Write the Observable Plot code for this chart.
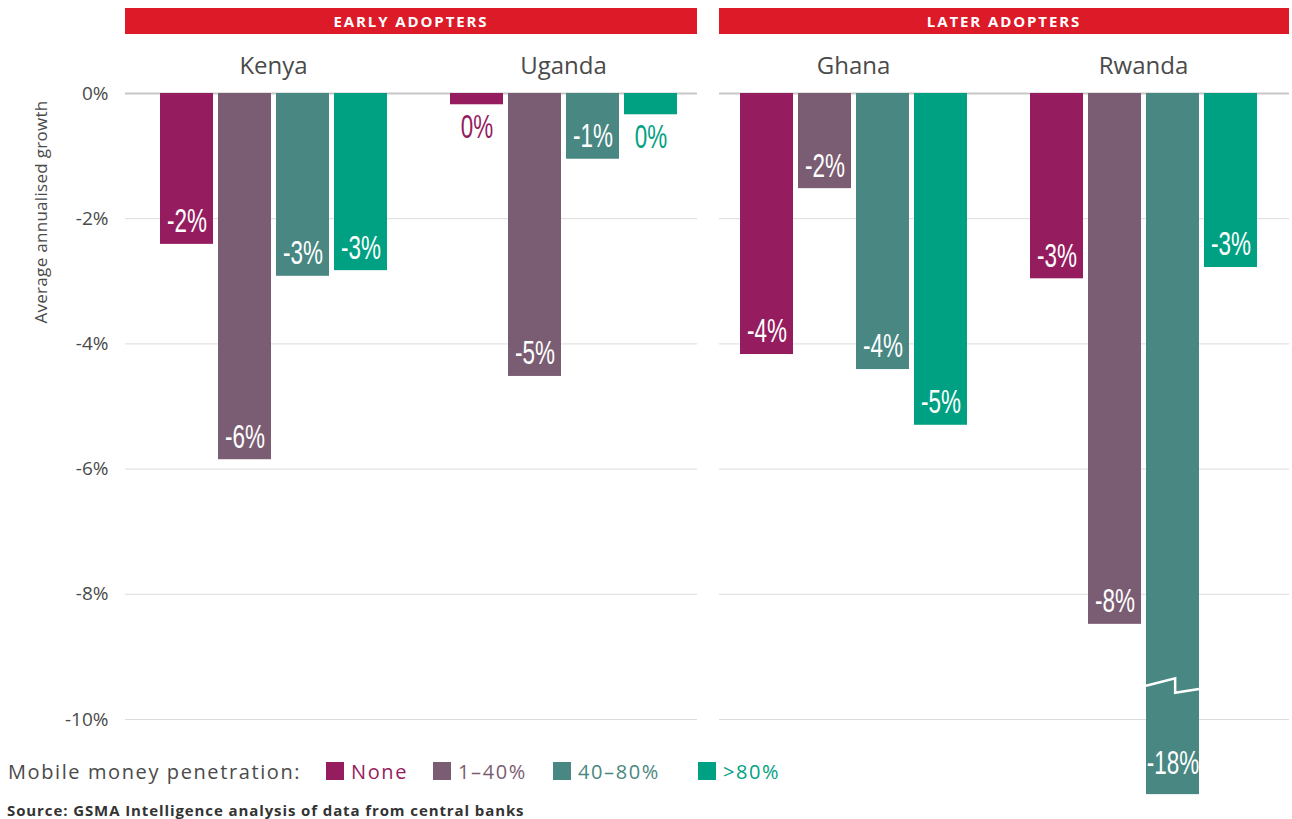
<!DOCTYPE html>
<html><head><meta charset="utf-8">
<script src="https://cdn.jsdelivr.net/npm/d3@7"></script>
<script src="https://cdn.jsdelivr.net/npm/@observablehq/plot@0.6"></script>
<style>
body{margin:0;background:#fff;font-family:"Open Sans",sans-serif;}
#wrap{position:relative;width:1292px;height:819px;overflow:hidden;}
#wrap svg{position:absolute;left:0;top:0;}
.hdr{position:absolute;top:8px;height:26px;background:#DC1A28;color:#fff;font-weight:700;font-size:15px;letter-spacing:1.9px;display:flex;align-items:center;justify-content:center;}
.ylab{position:absolute;left:40px;top:212px;transform:translate(-50%,-50%) rotate(-90deg);white-space:nowrap;font-size:17px;letter-spacing:0.3px;color:#4a4a4a;}
.leg{position:absolute;top:760px;height:22px;display:flex;align-items:center;font-size:20px;letter-spacing:1.6px;white-space:nowrap;}
.sw{width:18px;height:18px;margin-right:7px;}
.src{position:absolute;left:7px;top:800px;font-size:15px;letter-spacing:0.9px;font-weight:700;color:#333;white-space:nowrap;}
</style></head><body><div id="wrap"></div><script>
// ---- data ----
const groups = ["EARLY ADOPTERS", "LATER ADOPTERS"];
const countries = ["Kenya", "Uganda", "Ghana", "Rwanda"];
const penetration = ["None", "1–40%", "40–80%", ">80%"];
const colors = ["#951C5F", "#7B5D73", "#488782", "#00A183"];
const kenya = [-2.41, -5.85, -2.92, -2.83];
const uganda = [-0.18, -4.52, -1.05, -0.34];
const ghana = [-4.17, -1.52, -4.41, -5.30];
const rwanda = [-2.96, -8.48, -18, -2.78];
const yTicks = [0, -2, -4, -6, -8, -10];
const axisBreakAt = -10;       // values beyond this are drawn as a broken bar
const brokenBarLength = -11.2; // drawn length of a broken bar
const breakLine = [-9.47, -9.35, -9.58, -9.52]; // zigzag y values (data units)

const series = [kenya, uganda, ghana, rwanda];
const fmt = v => String(Math.round(v)) + "%";
const rows = countries.flatMap((c, i) => series[i].map((v, j) => ({
  country: c, cat: penetration[j], value: v,
  display: v < axisBreakAt ? brokenBarLength : v,
  label: fmt(v)
})));
const normal = rows.filter(d => d.value >= axisBreakAt);
const broken = rows.filter(d => d.value < axisBreakAt);
const inside = normal.filter(d => d.display <= -0.8);
const outside = normal.filter(d => d.display > -0.8);

// gridline extents per facet (panel gaps)
const gridInset = {Kenya: [-3, 0], Uganda: [0, 11], Ghana: [11, 0], Rwanda: [0, -1]};
const gridMarks = countries.flatMap(c => {
  const data = yTicks.map(t => ({country: c, t}));
  return [
    Plot.ruleY(data.filter(d => d.t !== 0), {fx: "country", y: "t", stroke: "#dcdcdc", strokeWidth: 1, insetLeft: gridInset[c][0], insetRight: gridInset[c][1]}),
    Plot.ruleY(data.filter(d => d.t === 0), {fx: "country", y: "t", stroke: "#c8c8c8", strokeWidth: 2, insetLeft: gridInset[c][0], insetRight: gridInset[c][1]})
  ];
});

const labelFont = "'Liberation Sans Narrow', 'Liberation Sans', sans-serif";
const labelOpts = {fx: "country", x: "cat", y: "display", text: "label", fontSize: 34, fontFamily: labelFont, ariaDescription: "vlabel"};
const plot = Plot.plot({
  width: 1292, height: 800,
  marginTop: 93, marginBottom: 81, marginLeft: 127, marginRight: 3,
  style: {fontFamily: "'Open Sans', sans-serif", color: "#4a4a4a", background: "transparent", overflow: "visible"},
  fx: {domain: countries, padding: 0, label: null},
  x: {domain: penetration, paddingInner: 0.09, paddingOuter: 0.54, axis: null},
  y: {domain: [-10, 0], label: null},
  color: {domain: penetration, range: colors},
  marks: [
    ...gridMarks,
    Plot.axisY({ticks: yTicks, tickSize: 0, tickPadding: 20, tickFormat: d => d + "%", label: null, fontSize: 19}),
    Plot.axisFx({anchor: "top", tickSize: 0, tickPadding: 20, label: null, fontSize: 24}),
    Plot.barY(normal, {fx: "country", x: "cat", y: "display", fill: "cat"}),
    Plot.barY(broken, {fx: "country", x: "cat", y: "display", fill: "cat", ariaDescription: "broken-bar"}),
    Plot.text(inside, {...labelOpts, fill: "white", dy: -23}),
    Plot.text(broken, {...labelOpts, fill: "white", dy: -32}),
    Plot.text(outside, {...labelOpts, fill: "cat", dy: 22})
  ]
});

const wrap = document.getElementById("wrap");
wrap.appendChild(plot);

// condense value labels
const labelTexts = new Set([
  ...plot.querySelectorAll('[aria-description="vlabel"] text'),
  ...plot.querySelectorAll('g[font-family*="Narrow"] text')
]);
labelTexts.forEach(t => {
  const len = t.getComputedTextLength();
  if (len > 0) {
    t.setAttribute("textLength", (len * 0.66).toFixed(1));
    t.setAttribute("lengthAdjust", "spacingAndGlyphs");
  }
});

// zigzag break on broken bars
const yS = plot.scale("y");
plot.querySelectorAll('[aria-description="broken-bar"] rect').forEach(r => {
  const x = +r.getAttribute("x"), w = +r.getAttribute("width");
  const p = document.createElementNS("http://www.w3.org/2000/svg", "path");
  const xm = x + w * 0.55;
  p.setAttribute("d", `M${x},${yS.apply(breakLine[0])}L${xm},${yS.apply(breakLine[1])}L${xm},${yS.apply(breakLine[2])}L${x + w},${yS.apply(breakLine[3])}`);
  p.setAttribute("fill", "none");
  p.setAttribute("stroke", "white");
  p.setAttribute("stroke-width", "2.5");
  r.parentNode.appendChild(p);
});

// panel headers
const fxS = plot.scale("fx");
const hdrSpan = [[-3, -11], [11, 1]];
groups.forEach((g, gi) => {
  const a = fxS.apply(countries[gi * 2]) + hdrSpan[gi][0];
  const b = fxS.apply(countries[gi * 2 + 1]) + fxS.bandwidth + hdrSpan[gi][1];
  const d = document.createElement("div");
  d.className = "hdr";
  d.style.left = a + "px"; d.style.width = (b - a) + "px";
  d.textContent = g;
  wrap.appendChild(d);
});

// y label
const yl = document.createElement("div");
yl.className = "ylab"; yl.textContent = "Average annualised growth";
wrap.appendChild(yl);

// legend
const legX = [326, 433, 553, 698];
const lt = document.createElement("div");
lt.className = "leg"; lt.style.left = "8px"; lt.style.color = "#4a4a4a";
lt.textContent = "Mobile money penetration:";
wrap.appendChild(lt);
penetration.forEach((p, i) => {
  const it = document.createElement("div");
  it.className = "leg"; it.style.left = legX[i] + "px"; it.style.color = colors[i];
  const sw = document.createElement("span"); sw.className = "sw"; sw.style.background = colors[i];
  it.appendChild(sw); it.appendChild(document.createTextNode(p));
  wrap.appendChild(it);
});

// source
const src = document.createElement("div");
src.className = "src"; src.textContent = "Source: GSMA Intelligence analysis of data from central banks";
wrap.appendChild(src);
</script></body></html>
